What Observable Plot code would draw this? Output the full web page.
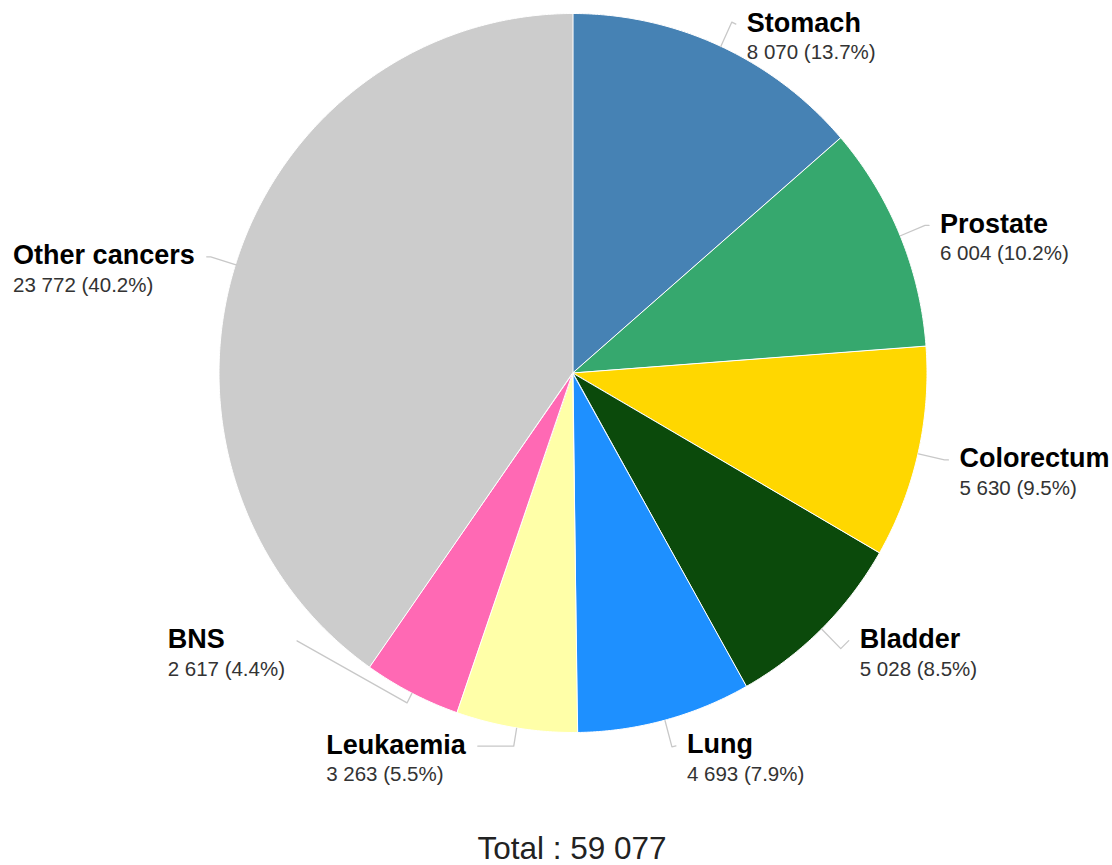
<!DOCTYPE html>
<html>
<head>
<meta charset="utf-8">
<script src="https://cdn.jsdelivr.net/npm/d3@7"></script>
<script src="https://cdn.jsdelivr.net/npm/@observablehq/plot@0.6"></script>
<style>
  html, body { margin: 0; padding: 0; background: #fff; }
  #total { width: 1080px; padding-left: 32px; text-align: center; font: 31.5px "Liberation Sans", Arial, sans-serif; line-height: 28px; color: #222; }
</style>
</head>
<body>
<div id="chart"></div>
<div id="total"></div>
<script>
// ---- data ----
const categories = ["Stomach", "Prostate", "Colorectum", "Bladder", "Lung", "Leukaemia", "BNS", "Other cancers"];
const values = [8070, 6004, 5630, 5028, 4693, 3263, 2617, 23772];
const colors = ["#4682B4", "#36A86E", "#FFD700", "#0B4A0B", "#1E90FF", "#FFFFA8", "#FF69B4", "#CCCCCC"];

// ---- label layout nudges (connector elbow radius, horizontal leg px, vertical shift px) ----
const elbowR = [1.075, 1.075, 1.075, 1.075, 1.075, 1.05, 1.03, 1.075];
const legLen = [4, 4, 4, 8, 4, 36, 110, 4];
const legRise = [2, 0, 0, -8, -1, 0, -62, 0];

const W = 1112, H = 834;
const xRange = [219, 927], yRange = [732.5, 13.5];
const cx = (xRange[0] + xRange[1]) / 2, cy = (yRange[0] + yRange[1]) / 2;
const sx = (xRange[1] - xRange[0]) / 2, sy = (yRange[0] - yRange[1]) / 2;
const toX = px => (px - cx) / sx;
const toY = py => (cy - py) / sy;

const total = d3.sum(values);
const fmt = d3.formatLocale({decimal: ".", thousands: "\u00a0", grouping: [3], currency: ["", ""]}).format(",");

// slices
const slices = [];
let acc = 0;
categories.forEach((name, i) => {
  const a0 = acc / total * 2 * Math.PI;
  acc += values[i];
  const a1 = acc / total * 2 * Math.PI;
  slices.push({name, value: values[i], a0, a1, mid: (a0 + a1) / 2, i});
});

// sector outlines as areas between centre and arc
const arcPts = [];
for (const s of slices) {
  const n = Math.max(2, Math.ceil((s.a1 - s.a0) / (Math.PI / 360)));
  for (let k = 0; k <= n; k++) {
    const t = s.a0 + (s.a1 - s.a0) * k / n;
    arcPts.push({name: s.name, x1: 0, y1: 0, x2: Math.sin(t), y2: Math.cos(t)});
  }
}

// canvas text measuring
const ctx = document.createElement("canvas").getContext("2d");
const nameFont = "bold 27px 'Liberation Sans'";
const valFont = "20.5px 'Liberation Sans'";
function measure(font, txt) { ctx.font = font; return ctx.measureText(txt).width; }

const connectors = [];
const labels = [];
for (const s of slices) {
  const m = s.mid, i = s.i;
  const right = Math.sin(m) >= 0;
  const ex = Math.sin(m), ey = Math.cos(m);
  const bx = cx + sx * elbowR[i] * Math.sin(m);
  const by = cy - sy * elbowR[i] * Math.cos(m);
  const tx = bx + (right ? legLen[i] : -legLen[i]);
  const ty = by + legRise[i];
  connectors.push({name: s.name, x: ex, y: ey});
  connectors.push({name: s.name, x: toX(bx), y: toY(by)});
  connectors.push({name: s.name, x: toX(tx), y: toY(ty)});
  const valueText = `${fmt(s.value)} (${(s.value / total * 100).toFixed(1)}%)`;
  const w = Math.max(measure(nameFont, s.name), measure(valFont, valueText));
  const lx = right ? tx + 11 : tx - 12 - w;
  labels.push({name: s.name, value: valueText, x: toX(lx), yName: toY(ty + 7.5), yValue: toY(ty + 35)});
}

const chart = Plot.plot({
  width: W,
  height: H,
  margin: 0,
  x: {domain: [-1, 1], range: xRange, axis: null},
  y: {domain: [-1, 1], range: yRange, axis: null},
  color: {domain: categories, range: colors},
  marks: [
    Plot.area(arcPts, {x1: "x1", y1: "y1", x2: "x2", y2: "y2", z: "name", fill: "name", stroke: "white", strokeWidth: 1, curve: "linear"}),
    Plot.line(connectors, {x: "x", y: "y", z: "name", stroke: "#c8c8c8", strokeWidth: 1.3, curve: "linear"}),
    Plot.text(labels, {x: "x", y: "yName", text: "name", textAnchor: "start", lineAnchor: "bottom", fontSize: 27, fontWeight: "bold", fill: "#000", fontFamily: "Liberation Sans"}),
    Plot.text(labels, {x: "x", y: "yValue", text: "value", textAnchor: "start", lineAnchor: "bottom", fontSize: 20.5, fill: "#333", fontFamily: "Liberation Sans"})
  ]
});
document.getElementById("chart").appendChild(chart);
document.getElementById("total").textContent = `Total : ${fmt(total)}`;
</script>
</body>
</html>
